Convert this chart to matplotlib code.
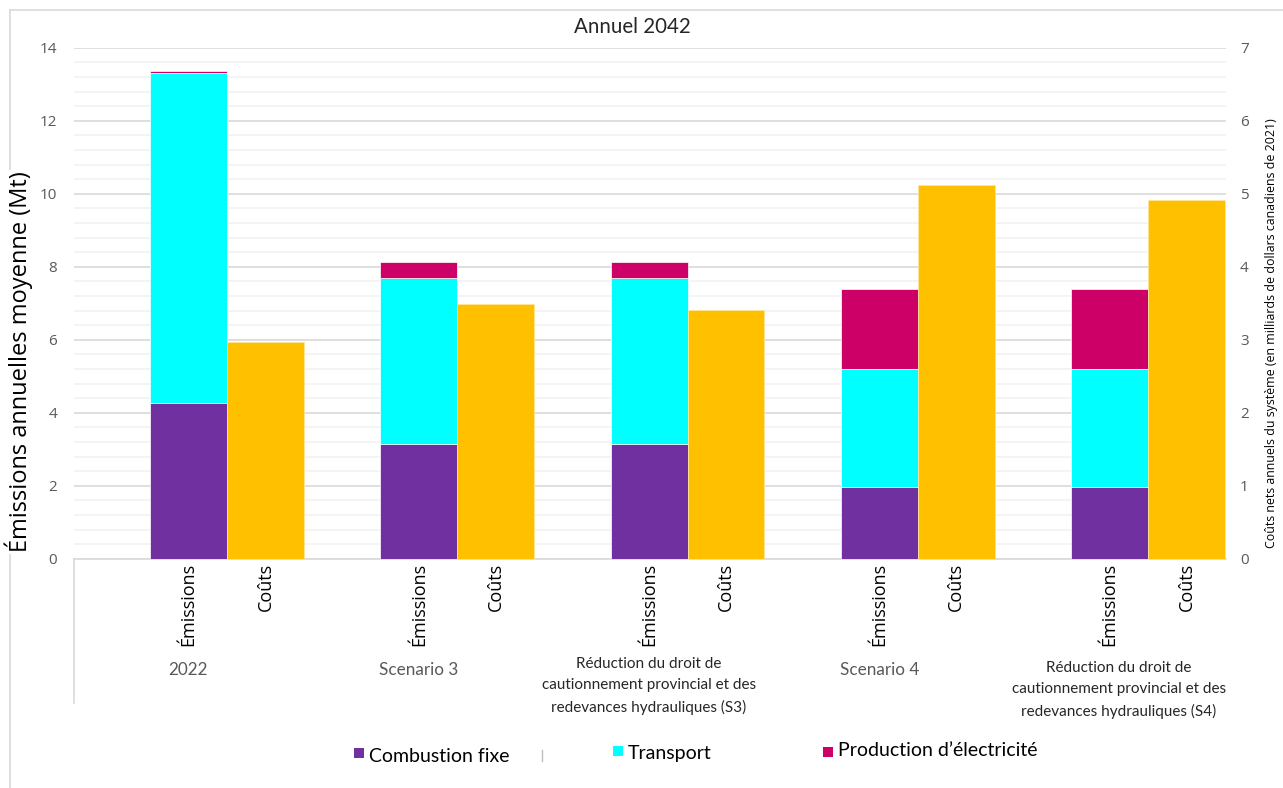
import matplotlib
matplotlib.use("Agg")
import matplotlib.pyplot as plt
from matplotlib.patches import Rectangle
from matplotlib.lines import Line2D
import numpy as np

# ---- data -------------------------------------------------------------
groups = ["2022", "Scenario 3",
          "Réduction du droit de\ncautionnement provincial et des\nredevances hydrauliques (S3)",
          "Scenario 4",
          "Réduction du droit de\ncautionnement provincial et des\nredevances hydrauliques (S4)"]
sub_labels = ["Émissions", "Coûts"]

combustion_fixe = [4.26, 3.15, 3.15, 1.96, 1.97]
transport = [9.04, 4.55, 4.55, 3.23, 3.22]
production_elec = [0.05, 0.43, 0.43, 2.19, 2.19]
couts = [2.97, 3.49, 3.41, 5.12, 4.92]

series_names = ["Combustion fixe", "Transport", "Production d\u2019électricité"]

# ---- style ------------------------------------------------------------
C_PURPLE = "#7030A0"
C_CYAN = "#00FFFF"
C_MAGENTA = "#CC0066"
C_GOLD = "#FFC000"
C_TICK = "#595959"
C_TEXT = "#262626"

W, H = 1283, 788
fig = plt.figure(figsize=(W / 100, H / 100), dpi=100)
fig.patch.set_facecolor("white")


def fx(px):
    return px / W


def fy(py):
    return 1 - py / H


ax_left, ax_right, ax_top, ax_bottom = 74, 1226, 47.7, 558.7
ax_h = ax_bottom - ax_top
ax = fig.add_axes([fx(ax_left), fy(ax_bottom), fx(ax_right - ax_left), ax_h / H])
ax2 = ax.twinx()

x = np.arange(len(groups))
bw = 0.334

# gridlines and value axes
ax.set_ylim(0, 14)
ax2.set_ylim(0, 7)
ax.set_xlim(-0.664, 4.338)
ax.set_yticks(np.arange(0, 15, 2))
ax.set_yticks(np.arange(0, 14.01, 0.4), minor=True)
ax.grid(True, which="minor", axis="y", color="#F2F2F2", lw=1.2, zorder=0)
ax.grid(True, which="major", axis="y", color="#D9D9D9", lw=1.2, zorder=0)
ax.set_axisbelow(True)
ax.tick_params(axis="y", which="both", length=0)
ax.tick_params(axis="y", which="major", labelsize=11, labelcolor=C_TICK, pad=12)
for lab in ax.get_yticklabels():
    lab.set_fontfamily("Open Sans")
ax2.set_yticks(np.arange(0, 8, 1))
ax2.tick_params(axis="y", length=0, labelsize=11, labelcolor=C_TICK, pad=10)
for lab in ax2.get_yticklabels():
    lab.set_fontfamily("Open Sans")

for a in (ax, ax2):
    for s in a.spines.values():
        s.set_visible(False)
ax.spines["bottom"].set_visible(True)
ax.spines["bottom"].set_color("#D9D9D9")
ax.spines["bottom"].set_linewidth(1.2)

# stacked emission bars (left axis)
ex = x - bw / 2
b1 = np.array(combustion_fixe)
b2 = b1 + np.array(transport)
ekw = dict(width=bw, edgecolor="white", linewidth=0.5, zorder=3)
ax.bar(ex, combustion_fixe, color=C_PURPLE, **ekw)
ax.bar(ex, transport, bottom=b1, color=C_CYAN, **ekw)
ax.bar(ex, production_elec, bottom=b2, color=C_MAGENTA, **ekw)

# cost bars (right axis)
cx = x + bw / 2
ax2.bar(cx, couts, width=bw, color=C_GOLD, edgecolor="#FFE699",
        linewidth=0.5, zorder=3)

# inner category labels
ax.set_xticks(np.concatenate([ex, cx]))
ax.set_xticklabels([sub_labels[0]] * len(x) + [sub_labels[1]] * len(x),
                   rotation=90, fontsize=13, fontfamily="Open Sans",
                   color="black", va="top")
ax.tick_params(axis="x", length=0, pad=3)

# outer category labels
xform = ax.get_xaxis_transform()
for i, g in enumerate(groups):
    if "\n" in g:
        yc = 686 if i == 2 else 690
        shift = 0.04 if i == len(groups) - 1 else 0.0
        ax.text(ex[i] + shift, -(yc - ax_bottom) / ax_h, g, transform=xform,
                ha="center", va="center", fontsize=11, fontfamily="Lato",
                color=C_TEXT, linespacing=1.62)
    else:
        ax.text(ex[i], -(670 - ax_bottom) / ax_h, g, transform=xform,
                ha="center", va="center", fontsize=12.3, fontfamily="Lato",
                color=C_TICK)

# divider of the category axis
ax.add_line(Line2D([0, 0], [0, -(703 - ax_bottom) / ax_h],
                   transform=ax.transAxes, color="#D9D9D9", lw=1.2,
                   clip_on=False))

# axis titles
fig.text(fx(19), fy(362), "Émissions annuelles moyenne (Mt)", rotation=90,
         ha="center", va="center", fontsize=17, fontfamily="Open Sans",
         color="black", bbox=dict(facecolor="white", edgecolor="none", pad=1))
fig.text(fx(1271), fy(333),
         "Coûts nets annuels du système (en milliards de dollars canadiens de 2021)",
         rotation=90, ha="center", va="center", fontsize=8.9,
         fontfamily="Open Sans", color="black")

# chart title
fig.text(fx(632), fy(27), "Annuel 2042", ha="center", va="center",
         fontsize=14.8, fontfamily="Lato", color=C_TEXT)

# outer frame
frame_c = "#D9D9D9"
fig.add_artist(Line2D([fx(10), fx(10)], [fy(9.5), 0], color=frame_c, lw=1.2, zorder=0))
fig.add_artist(Line2D([fx(10), 1], [fy(9.5), fy(9.5)], color=frame_c, lw=1.2, zorder=0))

# legend
legend_items = [
    (354, 748, 757, series_names[0], C_PURPLE),
    (613, 746, 754, series_names[1], C_CYAN),
    (823, 747, 751, series_names[2], C_MAGENTA),
]
for sx, sy, ty, name, col in legend_items:
    fig.add_artist(Rectangle((fx(sx), fy(sy + 10)), fx(10), 10 / H,
                             facecolor=col, edgecolor="none"))
    fig.text(fx(sx + 15), fy(ty), name, ha="left", va="center",
             fontsize=14, fontfamily="Lato", color="black")
fig.add_artist(Line2D([fx(542), fx(542)], [fy(750), fy(761)],
                      color="#BFBFBF", lw=1))

fig.savefig("out.png", dpi=100, facecolor="white")
